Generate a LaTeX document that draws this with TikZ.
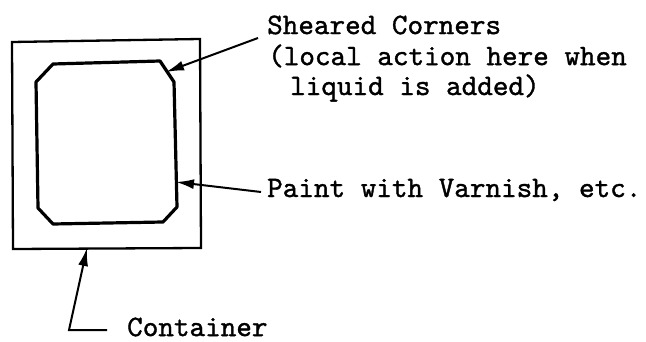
\documentclass[tikz,border=0pt]{standalone}
\usepackage{fontspec}
\usetikzlibrary{arrows.meta}
\newfontfamily\twfont{lmmono10-regular.otf}[FakeBold=1.2]
\begin{document}
\begin{tikzpicture}[x=1pt,y=-1pt,
  lbl/.style={font=\fontsize{29.7}{31}\selectfont\twfont,inner sep=0pt,anchor=west,align=left},
  ptr/.style={line width=2pt,-{Latex[length=18pt,width=10pt]}},
  boxline/.style={line width=2.3pt},
  panel/.style={line width=3.2pt,line join=round}]
\useasboundingbox (0,0) rectangle (646,342);
% container
\draw[boxline] (12,42) coordinate (c1) -- (200,39) -- (201,248) -- (13,249) -- cycle;
% painted panel with sheared corners
\draw[panel] (53,64) -- (160,61) -- (174,82) -- (177,207) -- (163,222) -- (53,224) -- (38,208) -- (36,82) -- cycle;
% labels
\node[lbl] (shear) at (267,25) {Sheared Corners};
\node[lbl] (shear2) at (268,56) {(local action here when};
\node[lbl] (shear3) at (290,88) {liquid is added)};
\node[lbl] (paint) at (267,190) {Paint with Varnish, etc.};
\node[lbl] (cont) at (127,327) {Container};
% arrow tips and bends
\coordinate (shearTip) at (166,72);
\coordinate (shearStart) at (258,38);
\coordinate (paintTip) at (176,182);
\coordinate (contTip) at (87,248);
\coordinate (contBend) at (69,330);
\coordinate (contEnd) at (107,330);
\draw[ptr] (shearStart) -- (shearTip);
\draw[ptr] (paint.west) ++(-6,2) -- (paintTip);
\draw[ptr] (contEnd) -- (contBend) -- (contTip);
\end{tikzpicture}
\end{document}
